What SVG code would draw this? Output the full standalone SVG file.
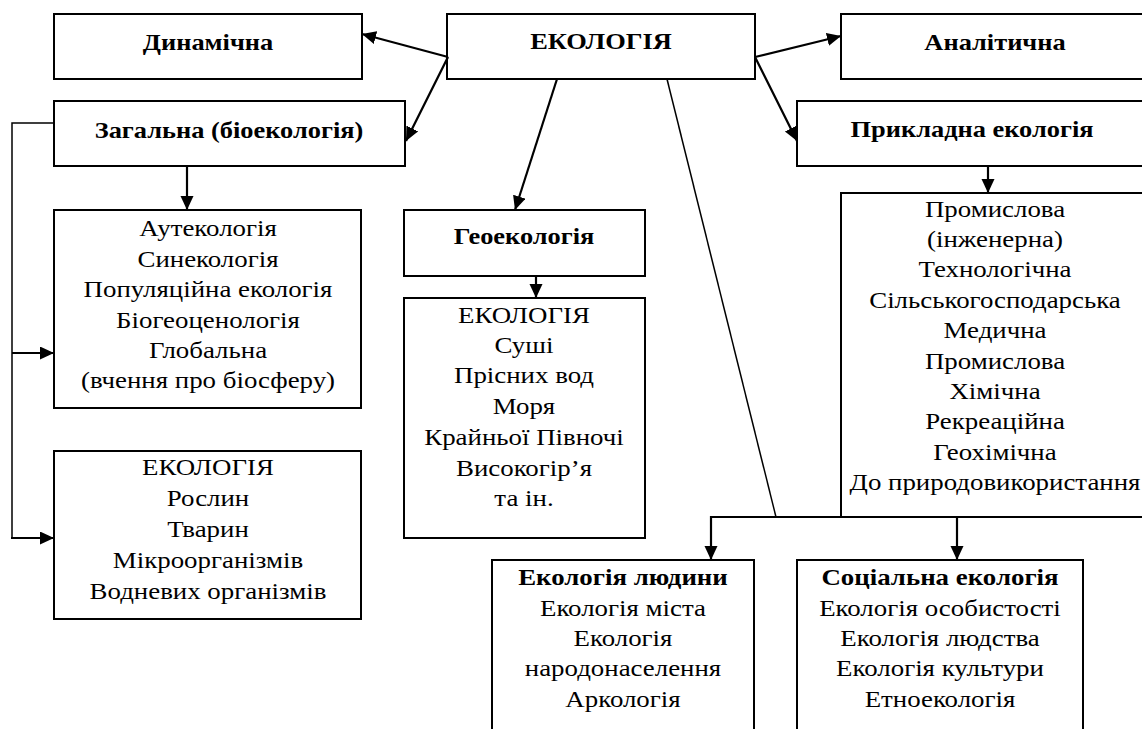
<svg xmlns="http://www.w3.org/2000/svg" width="1142" height="729" viewBox="0 0 1142 729">
<style>
  .box { fill: #fff; stroke: #000; stroke-width: 2; }
  .t { font-family: "Liberation Serif", "Times New Roman", serif; font-size: 24px; fill: #000; text-anchor: middle; }
  .b { font-weight: bold; }
  .c { stroke: #000; stroke-width: 2.2; fill: none; }
  .thin { stroke: #000; stroke-width: 1.5; fill: none; }
</style>
<defs>
  <marker id="ah" markerUnits="userSpaceOnUse" markerWidth="15" markerHeight="14" refX="14" refY="6.5" orient="auto">
    <path d="M0,0 L14,6.5 L0,13 z" fill="#000"/>
  </marker>
</defs>
<rect width="1142" height="729" fill="#fff"/>

<g id="n-ecology"><rect class="box" x="447" y="14" width="308" height="65"/>
  <g transform="translate(601,0) scale(1.1,1)"><text class="t b" x="0" y="49">ЕКОЛОГІЯ</text></g></g>
<g id="n-dynamic"><rect class="box" x="54" y="14" width="308" height="65"/>
  <g transform="translate(208,0) scale(1.1,1)"><text class="t b" x="0" y="50">Динамічна</text></g></g>
<g id="n-analytic"><rect class="box" x="841" y="14" width="308" height="65"/>
  <g transform="translate(995,0) scale(1.1,1)"><text class="t b" x="0" y="50">Аналітична</text></g></g>
<g id="n-general"><rect class="box" x="54" y="101" width="351" height="65"/>
  <g transform="translate(229,0) scale(1.1,1)"><text class="t b" x="0" y="138">Загальна (біоекологія)</text></g></g>
<g id="n-applied"><rect class="box" x="797" y="101" width="352" height="65"/>
  <g transform="translate(972,0) scale(1.1,1)"><text class="t b" x="0" y="137">Прикладна екологія</text></g></g>

<g id="n-autecology"><rect class="box" x="54" y="210" width="307" height="198"/>
  <g transform="translate(208,0) scale(1.12,1)">
  <text class="t" x="0" y="236">Аутекологія</text>
  <text class="t" x="0" y="267">Синекологія</text>
  <text class="t" x="0" y="297">Популяційна екологія</text>
  <text class="t" x="0" y="328">Біогеоценологія</text>
  <text class="t" x="0" y="358">Глобальна</text>
  <text class="t" x="0" y="388">(вчення про біосферу)</text>
  </g>
</g>
<g id="n-organisms"><rect class="box" x="54" y="451" width="307" height="168"/>
  <g transform="translate(208,0) scale(1.12,1)">
  <text class="t" x="0" y="475">ЕКОЛОГІЯ</text>
  <text class="t" x="0" y="506">Рослин</text>
  <text class="t" x="0" y="537">Тварин</text>
  <text class="t" x="0" y="568">Мікроорганізмів</text>
  <text class="t" x="0" y="599">Водневих організмів</text>
  </g>
</g>
<g id="n-geo"><rect class="box" x="404" y="210" width="241" height="66"/>
  <g transform="translate(524,0) scale(1.1,1)"><text class="t b" x="0" y="244">Геоекологія</text></g></g>
<g id="n-geolist"><rect class="box" x="404" y="298" width="241" height="240"/>
  <g transform="translate(524,0) scale(1.12,1)">
  <text class="t" x="0" y="323">ЕКОЛОГІЯ</text>
  <text class="t" x="0" y="353">Суші</text>
  <text class="t" x="0" y="383">Прісних вод</text>
  <text class="t" x="0" y="414">Моря</text>
  <text class="t" x="0" y="445">Крайньої Півночі</text>
  <text class="t" x="0" y="476">Високогір’я</text>
  <text class="t" x="0" y="506">та ін.</text>
  </g>
</g>
<g id="n-appliedlist"><rect class="box" x="841" y="193" width="308" height="324"/>
  <g transform="translate(995,0) scale(1.12,1)">
  <text class="t" x="0" y="217">Промислова</text>
  <text class="t" x="0" y="247">(інженерна)</text>
  <text class="t" x="0" y="277">Технологічна</text>
  <text class="t" x="0" y="308">Сільськогосподарська</text>
  <text class="t" x="0" y="338">Медична</text>
  <text class="t" x="0" y="369">Промислова</text>
  <text class="t" x="0" y="399">Хімічна</text>
  <text class="t" x="0" y="429">Рекреаційна</text>
  <text class="t" x="0" y="460">Геохімічна</text>
  <text class="t" x="0" y="490">До природовикористання</text>
  </g>
</g>
<g id="n-human"><rect class="box" x="492" y="560" width="262" height="190"/>
  <g transform="translate(623,0) scale(1.12,1)">
  <text class="t b" x="0" y="585">Екологія людини</text>
  <text class="t" x="0" y="616">Екологія міста</text>
  <text class="t" x="0" y="646">Екологія</text>
  <text class="t" x="0" y="676">народонаселення</text>
  <text class="t" x="0" y="707">Аркологія</text>
  </g>
</g>
<g id="n-social"><rect class="box" x="797" y="560" width="286" height="190"/>
  <g transform="translate(940,0) scale(1.12,1)">
  <text class="t b" x="0" y="585">Соціальна екологія</text>
  <text class="t" x="0" y="616">Екологія особистості</text>
  <text class="t" x="0" y="646">Екологія людства</text>
  <text class="t" x="0" y="676">Екологія культури</text>
  <text class="t" x="0" y="707">Етноекологія</text>
  </g>
</g>

<g id="connectors">
  <line class="c" x1="448" y1="57" x2="362" y2="34" marker-end="url(#ah)"/>
  <line class="c" x1="448" y1="57" x2="406" y2="141" marker-end="url(#ah)"/>
  <line class="c" x1="755" y1="57" x2="841" y2="36" marker-end="url(#ah)"/>
  <line class="c" x1="755" y1="57" x2="797" y2="141" marker-end="url(#ah)"/>
  <line class="c" x1="557" y1="79" x2="515" y2="210" marker-end="url(#ah)"/>
  <line class="thin" x1="667" y1="79" x2="776" y2="517"/>
  <line class="c" x1="187" y1="166" x2="187" y2="210" marker-end="url(#ah)"/>
  <line class="c" x1="536" y1="276" x2="536" y2="298" marker-end="url(#ah)"/>
  <line class="c" x1="988" y1="166" x2="988" y2="193" marker-end="url(#ah)"/>
  <polyline class="thin" points="54,123 12,123 12,538"/>
  <line class="c" x1="12" y1="353" x2="54" y2="353" marker-end="url(#ah)"/>
  <line class="c" x1="11" y1="538" x2="54" y2="538" marker-end="url(#ah)"/>
  <line class="c" x1="711" y1="517" x2="1142" y2="517"/>
  <line class="c" x1="711" y1="516" x2="711" y2="560" marker-end="url(#ah)"/>
  <line class="c" x1="957" y1="517" x2="957" y2="560" marker-end="url(#ah)"/>
</g>
</svg>
